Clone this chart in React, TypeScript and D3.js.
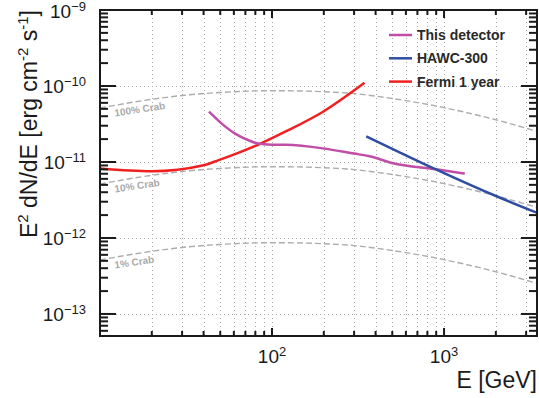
import React, { useEffect, useRef } from 'react'
import * as d3 from 'd3'

// Crab reference spectrum
const crabEnergy = [10, 20, 30, 50, 100, 200, 300, 500, 1000, 2000, 3500]
const crab100 = [5.13e-11, 6.68e-11, 7.5e-11, 8.22e-11, 8.67e-11, 8.41e-11, 7.94e-11, 6.84e-11, 5.19e-11, 3.59e-11, 2.51e-11]
const crab10 = [5.13e-12, 6.68e-12, 7.5e-12, 8.22e-12, 8.67e-12, 8.41e-12, 7.94e-12, 6.84e-12, 5.19e-12, 3.59e-12, 2.51e-12]
const crab1 = [5.13e-13, 6.68e-13, 7.5e-13, 8.22e-13, 8.67e-13, 8.41e-13, 7.94e-13, 6.84e-13, 5.19e-13, 3.59e-13, 2.51e-13]
const crabLabels = ['100% Crab', '10% Crab', '1% Crab']

const detEnergy = [43, 51, 61, 73, 83, 100, 120, 197, 300, 369, 498, 900, 1320]
const detFlux = [4.59e-11, 3.2e-11, 2.36e-11, 1.93e-11, 1.75e-11, 1.69e-11, 1.68e-11, 1.51e-11, 1.29e-11, 1.19e-11, 9.7e-12, 8.0e-12, 7.03e-12]

const hawcEnergy = [353, 903, 2018, 3500]
const hawcFlux = [2.18e-11, 7.94e-12, 3.54e-12, 2.13e-12]

const fermiEnergy = [10, 20, 40, 49, 62, 84, 121, 197, 345]
const fermiFlux = [8.2e-12, 7.55e-12, 9.05e-12, 1.06e-11, 1.29e-11, 1.71e-11, 2.54e-11, 4.55e-11, 1.1e-10]

const seriesNames = ['This detector', 'HAWC-300', 'Fermi 1 year']
const seriesColors = ['#c04ea6', '#2f4ea3', '#f02020']

const xMajor = [100, 1000]
const xMajorLabels = ['2', '3']
const yMajor = [1e-9, 1e-10, 1e-11, 1e-12, 1e-13]
const yMajorLabels = ['\u22129', '\u221210', '\u221211', '\u221212', '\u221213']

const W = 539
const H = 398
const font = '"Liberation Sans", Arial, Helvetica, sans-serif'

export default function App() {
    const ref = useRef<SVGSVGElement>(null)

    useEffect(() => {
        const svg = d3.select(ref.current)
        svg.selectAll('*').remove()

        const left = 100, right = 537, top = 10, bottom = 336
        const x = d3.scaleLog().domain([10, 3470]).range([left, right])
        const y = d3.scaleLog().domain([Math.pow(10, -13.29), 1e-9]).range([bottom, top])

        // all ticks 1..9 x decade inside domain
        const xTicks: number[] = []
        for (let k = 1; k <= 3; k++) for (let m = 1; m <= 9; m++) {
            const v = m * Math.pow(10, k)
            if (v > 10 && v < 3470) xTicks.push(v)
        }
        const yTicks: number[] = []
        for (let k = -14; k <= -10; k++) for (let m = 1; m <= 9; m++) {
            const v = m * Math.pow(10, k)
            if (v >= y.domain()[0] && v <= 1e-9) yTicks.push(v)
        }
        const isMajor = (v: number) => Math.abs(Math.log10(v) - Math.round(Math.log10(v))) < 1e-6

        svg.append('defs').append('clipPath').attr('id', 'plotclip')
            .append('rect').attr('x', left).attr('y', top).attr('width', right - left).attr('height', bottom - top)

        // grid
        const grid = svg.append('g').attr('stroke', '#a8a8a8').attr('stroke-width', 1).attr('stroke-dasharray', '1,3')
        grid.selectAll('line.vx').data(xTicks).join('line')
            .attr('x1', d => Math.round(x(d)) + 0.5).attr('x2', d => Math.round(x(d)) + 0.5)
            .attr('y1', top).attr('y2', bottom)
        grid.selectAll('line.hy').data(yMajor.filter(v => v < 1e-9)).join('line')
            .attr('y1', d => Math.round(y(d)) + 0.5).attr('y2', d => Math.round(y(d)) + 0.5)
            .attr('x1', left).attr('x2', right)

        const plot = svg.append('g').attr('clip-path', 'url(#plotclip)')
        const line = d3.line<[number, number]>()
            .x(d => x(d[0])).y(d => y(d[1]))
            .curve(d3.curveMonotoneX)

        // crab curves
        const crabs = [crab100, crab10, crab1]
        crabs.forEach(vals => {
            plot.append('path')
                .attr('d', line(crabEnergy.map((e, i) => [e, vals[i]] as [number, number])))
                .attr('fill', 'none').attr('stroke', '#acacac').attr('stroke-width', 1.4)
                .attr('stroke-dasharray', '6,3')
        })
        crabLabels.forEach((t, i) => {
            const by = y(crab100[0]) + 8.5 + i * (y(1e-11) - y(1e-10))
            svg.append('text')
                .attr('transform', `translate(115,${by}) rotate(-8.5)`)
                .attr('font-family', font).attr('font-size', 10).attr('font-weight', 'bold')
                .attr('fill', '#aaaaaa').text(t)
        })

        const series = [
            detEnergy.map((e, i) => [e, detFlux[i]] as [number, number]),
            hawcEnergy.map((e, i) => [e, hawcFlux[i]] as [number, number]),
            fermiEnergy.map((e, i) => [e, fermiFlux[i]] as [number, number]),
        ]
        ;[2, 0, 1].forEach(i => {
            plot.append('path').attr('d', line(series[i]))
                .attr('fill', 'none').attr('stroke', seriesColors[i]).attr('stroke-width', 2.5)
        })

        // frame + ticks
        const ax = svg.append('g').attr('stroke', '#1a1a1a').attr('stroke-width', 2)
        ax.append('rect').attr('x', left).attr('y', top).attr('width', right - left).attr('height', bottom - top).attr('fill', 'none')
        ax.selectAll('line.xb').data(xTicks).join('line')
            .attr('x1', d => x(d)).attr('x2', d => x(d))
            .attr('y1', bottom).attr('y2', d => bottom - (isMajor(d) ? 8 : 5))
        ax.selectAll('line.xt').data(xTicks).join('line')
            .attr('x1', d => x(d)).attr('x2', d => x(d))
            .attr('y1', top).attr('y2', d => top + (isMajor(d) ? 8 : 5))
        ax.selectAll('line.yl').data(yTicks).join('line')
            .attr('y1', d => y(d)).attr('y2', d => y(d))
            .attr('x1', left).attr('x2', d => left + (isMajor(d) ? 16 : 8))
        ax.selectAll('line.yr').data(yTicks).join('line')
            .attr('y1', d => y(d)).attr('y2', d => y(d))
            .attr('x1', right).attr('x2', d => right - (isMajor(d) ? 16 : 8))

        // tick labels
        xMajor.forEach((v, i) => {
            const t = svg.append('text').attr('x', x(v)).attr('y', 363).attr('text-anchor', 'middle')
                .attr('font-family', font).attr('font-size', 19).attr('fill', '#1a1a1a')
            t.append('tspan').text('10')
            t.append('tspan').attr('dy', -7).attr('font-size', 13).text(xMajorLabels[i])
        })
        yMajor.forEach((v, i) => {
            const t = svg.append('text').attr('x', 86).attr('y', y(v) + 7.5).attr('text-anchor', 'end')
                .attr('font-family', font).attr('font-size', 19).attr('fill', '#1a1a1a')
            t.append('tspan').text('10')
            t.append('tspan').attr('dy', -7).attr('font-size', 13).text(yMajorLabels[i])
        })

        // axis titles
        const xt = svg.append('text').attr('x', 537).attr('y', 388).attr('text-anchor', 'end')
            .attr('font-family', font).attr('font-size', 23).attr('fill', '#1a1a1a')
        xt.text('E [GeV]')

        const yt = svg.append('text').attr('transform', 'translate(37,10) rotate(-90)')
            .attr('text-anchor', 'end').attr('font-family', font).attr('font-size', 23).attr('fill', '#1a1a1a')
        yt.append('tspan').text('E')
        yt.append('tspan').attr('dy', -9).attr('font-size', 15).text('2')
        yt.append('tspan').attr('dy', 9).text(' dN/dE [erg cm')
        yt.append('tspan').attr('dy', -9).attr('font-size', 15).text('-2')
        yt.append('tspan').attr('dy', 9).text(' s')
        yt.append('tspan').attr('dy', -9).attr('font-size', 15).text('-1')
        yt.append('tspan').attr('dy', 9).text(']')

        // legend
        const lg = svg.append('g')
        seriesNames.forEach((n, i) => {
            const cy = 35 + i * 23.3
            lg.append('line').attr('x1', 389).attr('x2', 412).attr('y1', cy).attr('y2', cy)
                .attr('stroke', seriesColors[i]).attr('stroke-width', 2.5)
            lg.append('text').attr('x', 417).attr('y', cy + 5)
                .attr('font-family', font).attr('font-size', 14).attr('font-weight', 'bold')
                .attr('fill', '#2a2a2a').text(n)
        })
    }, [])

    return (
        <div style={{ position: 'fixed', left: 0, top: 0, background: '#fff' }}>
            <svg ref={ref} width={W} height={H} style={{ display: 'block' }}></svg>
        </div>
    )
}
